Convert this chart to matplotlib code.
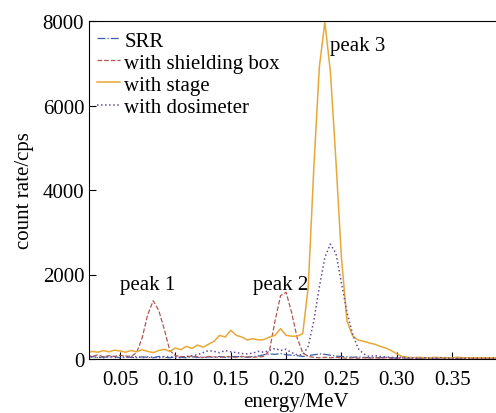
import matplotlib.pyplot as plt
import numpy as np

plt.rcParams['font.family'] = ['Liberation Serif', 'DejaVu Serif']
plt.rcParams['font.size'] = 15

# energy grid (MeV)
energy = np.round(np.arange(0.020, 0.3901, 0.005), 3)

srr = [40, 60, 30, 50, 40, 60, 30, 50, 40, 30, 50, 40, 30, 60, 40, 30, 50, 40,
       30, 50, 40, 30, 50, 40, 60, 40, 50, 60, 50, 40, 60, 70, 100, 120, 110, 130,
       100, 90, 80, 60, 80, 100, 120, 110, 90, 70, 60, 50, 40, 50, 40, 30, 40, 30,
       40, 30, 20, 30, 20, 30, 20, 20, 30, 20, 20, 30, 20, 20, 20, 30, 20, 20, 20,
       20, 20]

shield = [80, 60, 100, 50, 80, 60, 90, 70, 60,
          150, 500, 1050, 1380, 1150, 700, 200, 80,
          60, 50, 70, 50, 40, 60, 50, 40, 60, 50, 40, 60, 50, 40, 50, 60,
          200, 900, 1500, 1580, 1100, 500, 150, 60,
          40, 30, 40, 30, 40, 30, 20, 30, 20, 30, 20, 30, 20, 30, 20, 20, 30, 20,
          20, 20, 20, 20, 20, 20, 20, 20, 20, 20, 20, 20, 20, 20, 20, 20]

stage = [150, 180, 160, 200, 170, 210, 190, 160, 200, 170, 220, 180, 150, 200, 230,
         180, 260, 220, 300, 250, 330, 280, 350, 420, 560, 520, 680, 560, 520, 450,
         480, 450, 460, 520, 560, 720, 560, 540, 540, 600, 1700, 4500, 6900, 7980,
         6800, 4700, 2400, 900, 550, 450, 420, 380, 350, 300, 260, 200, 120, 60, 40,
         30, 40, 30, 30, 40, 30, 30, 30, 40, 30, 30, 30, 30, 30, 30, 30]

dosim = [30, 50, 40, 30, 60, 40, 30, 50, 40, 60, 30, 50, 40, 30, 60, 50, 40, 30, 60,
         80, 100, 150, 200, 180, 150, 200, 170, 150, 130, 120, 140, 180, 160, 200,
         250, 200, 230, 150, 100, 100, 300, 900, 1700, 2400, 2720, 2500, 1800, 1100,
         600, 250, 120, 60, 80, 60, 50, 40, 30, 40, 30, 30, 20, 30, 20, 20, 30, 20,
         20, 20, 20, 20, 20, 20, 20, 20, 20]

fig = plt.figure(figsize=(4.96, 4.14), dpi=100)
ax = fig.add_axes([89/496, 54/414, 413/496, 338/414])

ax.plot(energy, srr, '-.', color='#3c5fa8', lw=0.9, label='SRR')
ax.plot(energy, shield, '--', color='#b5554e', lw=0.9, label='with shielding box')
ax.plot(energy, stage, '-', color='#e8a838', lw=1.1, label='with stage')
ax.plot(energy, dosim, ':', color='#6a4c9c', lw=1.1, label='with dosimeter')

ax.text(0.075, 1550, 'peak 1', ha='center', va='bottom')
ax.text(0.195, 1550, 'peak 2', ha='center', va='bottom')
ax.text(0.240, 7200, 'peak 3', ha='left', va='bottom')

ax.set_xlim(0.022, 0.395)
ax.set_ylim(0, 8000)
ax.set_xticks([0.05, 0.10, 0.15, 0.20, 0.25, 0.30, 0.35])
ax.set_xticklabels(['0.05', '0.10', '0.15', '0.20', '0.25', '0.30', '0.35'])
ax.set_yticks([0, 2000, 4000, 6000, 8000])
ax.tick_params(direction='in', length=5, width=0.8)
ax.tick_params(axis='x', pad=8)
ax.spines['right'].set_visible(False)

ax.set_xlabel('energy/MeV', labelpad=2)
ax.set_ylabel('count rate/cps', labelpad=6)

ax.legend(loc='upper left', frameon=False, handlelength=1.1, handletextpad=0.2,
          labelspacing=0.12, borderaxespad=0.0, bbox_to_anchor=(0.0, 0.995))

fig.savefig('out.png', dpi=100)
